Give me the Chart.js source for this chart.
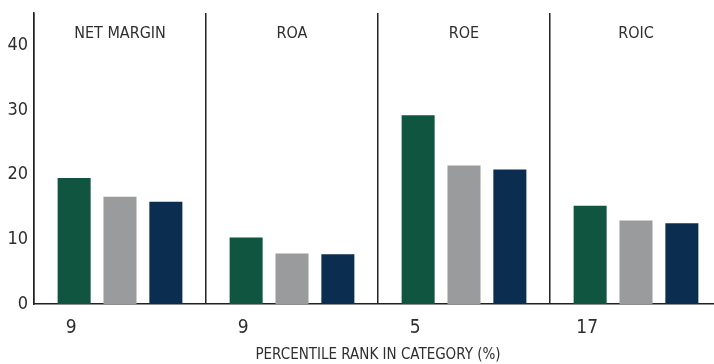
<!DOCTYPE html>
<html>
<head>
<meta charset="utf-8">
<script src="https://cdn.jsdelivr.net/npm/chart.js@4/dist/chart.umd.min.js"></script>
<style>
    html, body { margin: 0; padding: 0; background: #fff; overflow: hidden; }
    #wrap { position: relative; width: 722px; height: 364px; }
</style>
</head>
<body>
<div id="wrap"><canvas id="chart"></canvas></div>
<script>
const categories = ['NET MARGIN', 'ROA', 'ROE', 'ROIC'];
const fundValues = [19.5, 10.3, 29.2, 15.2];
const categoryValues = [16.6, 7.8, 21.4, 12.9];
const indexValues = [15.8, 7.7, 20.8, 12.5];
const percentileRanks = ['9', '9', '5', '17'];
const yTicks = [0, 10, 20, 30, 40];

const fontFamily = '"Liberation Sans Narrow", "DejaVu Sans Condensed", "Arial Narrow", sans-serif';
const textColor = '#2e2e2e';
const lineColor = '#222';

// group titles on top of each panel, percentile ranks under the first bar
const panelLabels = {
    id: 'panelLabels',
    afterDatasetsDraw(chart) {
        const { ctx, chartArea, scales } = chart;
        const meta = chart.getDatasetMeta(0);
        ctx.save();
        ctx.fillStyle = textColor;
        ctx.textAlign = 'center';
        ctx.textBaseline = 'middle';
        ctx.font = `16px ${fontFamily}`;
        categories.forEach((c, i) => {
            ctx.fillText(c, scales.x.getPixelForValue(i), chartArea.top + 21);
        });
        ctx.font = `19px ${fontFamily}`;
        percentileRanks.forEach((r, i) => {
            ctx.fillText(r, meta.data[i].x - 3, chartArea.bottom + 24);
        });
        ctx.restore();
    },
};

new Chart(document.getElementById('chart'), {
    type: 'bar',
    data: {
        labels: categories,
        datasets: [
            { label: 'Fund', data: fundValues, backgroundColor: '#0f5540' },
            { label: 'Category', data: categoryValues, backgroundColor: '#9a9b9d' },
            { label: 'Index', data: indexValues, backgroundColor: '#0b2e50' },
        ],
    },
    options: {
        responsive: true,
        maintainAspectRatio: false,
        animation: false,
        layout: { padding: { top: 13, right: 0, left: 0, bottom: 0 } },
        datasets: {
            bar: { categoryPercentage: 0.8, barPercentage: 0.72 },
        },
        plugins: {
            legend: { display: false },
            tooltip: { enabled: false },
        },
        scales: {
            x: {
                offset: true,
                ticks: { display: false },
                grid: {
                    display: true,
                    offset: true,
                    drawTicks: false,
                    color: lineColor,
                    lineWidth: 1.5,
                },
                border: { display: true, color: lineColor, width: 1.5 },
                title: {
                    display: true,
                    text: 'PERCENTILE RANK IN CATEGORY (%)',
                    color: textColor,
                    font: { family: fontFamily, size: 15 },
                    padding: { top: 0, bottom: 0 },
                },
                afterFit(scale) {
                    scale.height = 60;
                },
            },
            y: {
                min: 0,
                max: 45,
                ticks: {
                    stepSize: 10,
                    padding: 6,
                    color: textColor,
                    font: { family: fontFamily, size: 18 },
                },
                afterBuildTicks(scale) {
                    scale.ticks = yTicks.map((v) => ({ value: v }));
                },
                grid: { display: false, drawTicks: false },
                border: { display: true, color: lineColor, width: 1.5 },
                afterFit(scale) {
                    scale.width = 34;
                    scale.paddingTop = 0;
                    scale.paddingBottom = 0;
                },
            },
        },
    },
    plugins: [panelLabels],
});
</script>
</body>
</html>
